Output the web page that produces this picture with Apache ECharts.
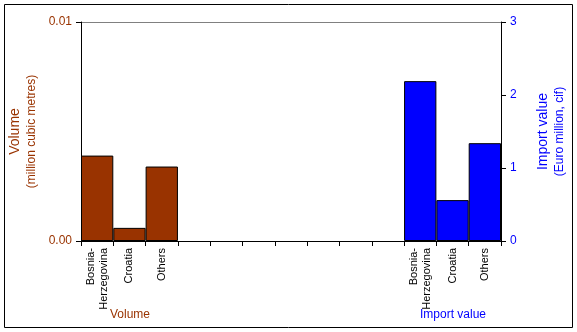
<!DOCTYPE html>
<html>
<head>
<meta charset="utf-8">
<script src="https://cdn.jsdelivr.net/npm/echarts@6/dist/echarts.min.js"></script>
<style>
html,body{margin:0;padding:0;background:#fff;}
#chart{width:577px;height:332px;}
</style>
</head>
<body>
<div id="chart"></div>
<script>
// Data
const countries = ['Bosnia-\nHerzegovina', 'Croatia', 'Others'];
const gapSlots = 7;
const volumeValues = [0.0039, 0.0006, 0.0034];   // million cubic metres
const importValues = [2.19, 0.56, 1.34];          // Euro million, cif
const volumeTicks = [0, 0.01];
const importTicks = [0, 1, 2, 3];

const BROWN = '#993300';
const BLUE = '#0000FF';
const FONT = 'Liberation Sans, Arial, sans-serif';

const blanks = new Array(gapSlots).fill('');
const categories = countries.concat(blanks, countries);
const nulls = new Array(gapSlots + countries.length).fill(null);
const volumeData = volumeValues.concat(nulls);
const importData = nulls.concat(importValues);

const chart = echarts.init(document.getElementById('chart'), null, {renderer: 'canvas'});
chart.setOption({
  animation: false,
  backgroundColor: '#fff',
  textStyle: {fontFamily: FONT},
  grid: {left: 81, right: 76, top: 22, bottom: 91, containLabel: false},
  xAxis: {
    type: 'category',
    data: categories,
    axisLine: {lineStyle: {color: '#000', width: 1}},
    axisTick: {show: true, interval: 0, alignWithLabel: false, length: 5, lineStyle: {color: '#000'}},
    axisLabel: {interval: 0, rotate: 90, color: '#000', fontSize: 11, fontFamily: FONT, margin: 7, lineHeight: 13},
    splitLine: {show: false}
  },
  yAxis: [
    {
      type: 'value',
      min: volumeTicks[0], max: volumeTicks[volumeTicks.length - 1], interval: 0.01,
      position: 'left',
      axisLine: {show: true, lineStyle: {color: '#000'}},
      axisTick: {show: true, length: 5, lineStyle: {color: '#000'}},
      axisLabel: {color: BROWN, fontSize: 12, fontFamily: FONT, margin: 9, formatter: v => v.toFixed(2)},
      splitLine: {show: true, lineStyle: {color: '#808080', width: 1}},
      name: '{a|Volume}\n{b|(million cubic metres)}',
      nameLocation: 'middle',
      nameRotate: 90,
      nameGap: 40,
      nameTextStyle: {
        rich: {
          a: {color: BROWN, fontSize: 14, fontFamily: FONT, lineHeight: 18},
          b: {color: BROWN, fontSize: 12, fontFamily: FONT, lineHeight: 15}
        }
      }
    },
    {
      type: 'value',
      min: importTicks[0], max: importTicks[importTicks.length - 1], interval: 1,
      position: 'right',
      axisLine: {show: true, lineStyle: {color: '#000'}},
      axisTick: {show: true, length: 5, lineStyle: {color: '#000'}},
      axisLabel: {color: BLUE, fontSize: 12, fontFamily: FONT, margin: 9},
      splitLine: {show: false},
      name: '{a|Import value}\n{b|(Euro million, cif)}',
      nameLocation: 'middle',
      nameRotate: 90,
      nameGap: 33,
      nameTextStyle: {
        rich: {
          a: {color: BLUE, fontSize: 14, fontFamily: FONT, lineHeight: 18},
          b: {color: BLUE, fontSize: 12, fontFamily: FONT, lineHeight: 15}
        }
      }
    }
  ],
  series: [
    {
      name: 'Volume', type: 'bar', yAxisIndex: 0, data: volumeData,
      barGap: '-100%', barCategoryGap: 0,
      itemStyle: {color: BROWN, borderColor: '#000', borderWidth: 1}
    },
    {
      name: 'Import value', type: 'bar', yAxisIndex: 1, data: importData,
      barGap: '-100%', barCategoryGap: 0,
      itemStyle: {color: BLUE, borderColor: '#000', borderWidth: 1}
    }
  ],
  graphic: [
    {type: 'rect', shape: {x: 4.5, y: 4.5, width: 568, height: 323}, style: {fill: 'none', stroke: '#000', lineWidth: 1}, silent: true},
    {type: 'text', x: 130, y: 315, style: {text: 'Volume', fill: BROWN, font: '12px ' + FONT, align: 'center', verticalAlign: 'middle'}},
    {type: 'text', x: 453, y: 315, style: {text: 'Import value', fill: BLUE, font: '12px ' + FONT, align: 'center', verticalAlign: 'middle'}}
  ]
});
</script>
</body>
</html>
